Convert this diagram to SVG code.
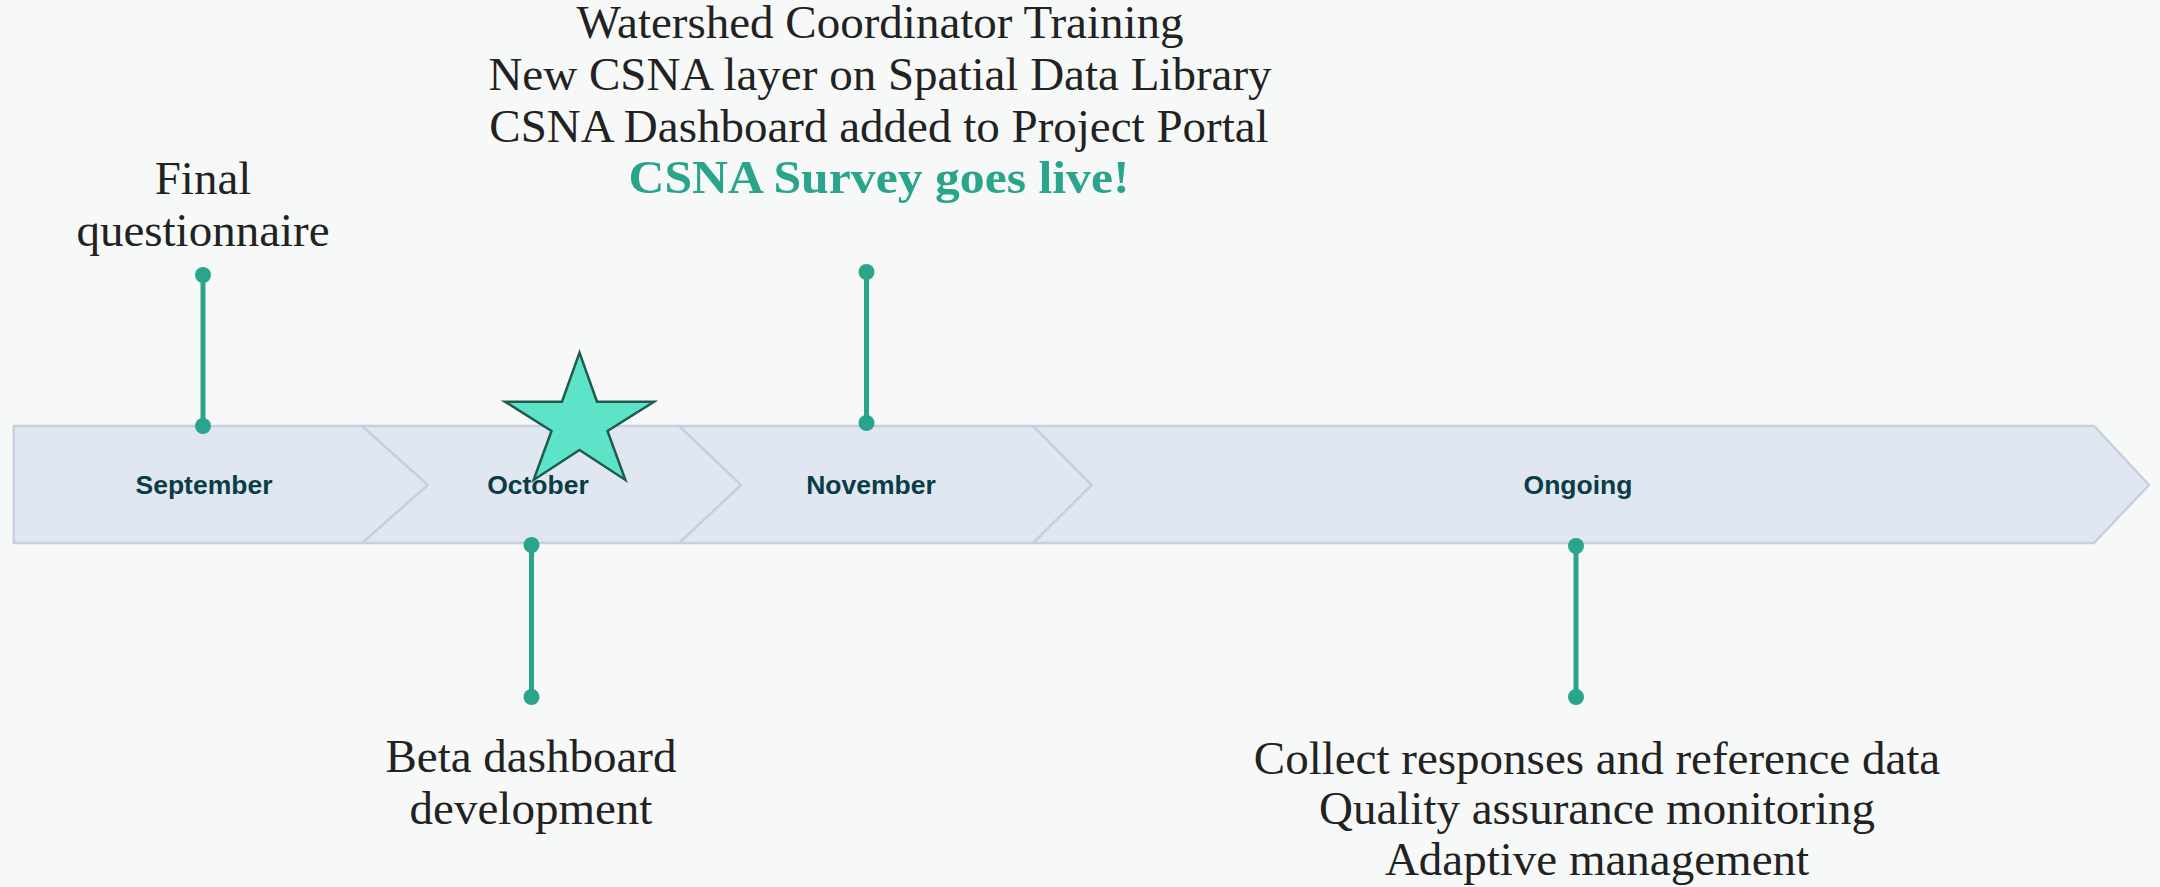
<svg xmlns="http://www.w3.org/2000/svg" width="2160" height="887" viewBox="0 0 2160 887">
  <style>
    .seg { fill: #e1e7f0; stroke: #c6d0e1; stroke-width: 2.5; stroke-linejoin: miter; }
    .month { font-family: "Liberation Sans", Arial, sans-serif; font-weight: bold; font-size: 26.5px; fill: #0b3d47; text-anchor: middle; }
    .note { font-family: "Liberation Serif", "Times New Roman", serif; font-size: 47px; fill: #222222; text-anchor: middle; }
    .hl { font-weight: bold; fill: #2aa58c; }
    .stem { stroke: #2aa58c; stroke-width: 5; fill: none; }
    .dot { fill: #2aa58c; }
    .star { fill: #5ce3c8; stroke: #1f5c4f; stroke-width: 2.5; stroke-linejoin: miter; }
  </style>
  <rect x="0" y="0" width="2160" height="887" fill="#f7f9f8"/>

  <g id="seg-ongoing">
    <path class="seg" d="M1033,426 L2094,426 L2149,485 L2094,543 L1033,543 L1091.5,485 Z"/>
    <text class="month" x="1578" y="494">Ongoing</text>
  </g>
  <g id="seg-november">
    <path class="seg" d="M679,426 L1033,426 L1091.5,485 L1033,543 L679,543 L741,485 Z"/>
    <text class="month" x="871" y="494">November</text>
  </g>
  <g id="seg-october">
    <path class="seg" d="M362,426 L679,426 L741,485 L679,543 L362,543 L427.6,485 Z"/>
  </g>
  <g id="seg-september">
    <path class="seg" d="M13.8,426 L362,426 L427.6,485 L362,543 L13.8,543 Z"/>
    <text class="month" x="204" y="494">September</text>
  </g>

  <g id="star">
    <polygon class="star" points="579.5,352.7 597,401.7 654,401.7 607.5,431 625.4,480 579.5,450 533.6,480 551.5,431 505,401.7 562,401.7"/>
  </g>
  <g id="seg-october-label">
    <text class="month" x="538" y="494">October</text>
  </g>

  <g id="connectors">
    <line class="stem" x1="203" y1="275" x2="203" y2="426"/>
    <circle class="dot" cx="203" cy="275" r="8"/>
    <circle class="dot" cx="203" cy="426" r="8"/>

    <line class="stem" x1="866.5" y1="272" x2="866.5" y2="423"/>
    <circle class="dot" cx="866.5" cy="272" r="8"/>
    <circle class="dot" cx="866.5" cy="423" r="8"/>

    <line class="stem" x1="531.5" y1="545" x2="531.5" y2="697"/>
    <circle class="dot" cx="531.5" cy="545" r="8"/>
    <circle class="dot" cx="531.5" cy="697" r="8"/>

    <line class="stem" x1="1576" y1="546" x2="1576" y2="697"/>
    <circle class="dot" cx="1576" cy="546" r="8"/>
    <circle class="dot" cx="1576" cy="697" r="8"/>
  </g>

  <g id="note-september">
    <text class="note" x="203" y="194">Final</text>
    <text class="note" x="203" y="246">questionnaire</text>
  </g>
  <g id="note-november">
    <text class="note" x="880" y="38">Watershed Coordinator Training</text>
    <text class="note" x="880" y="90">New CSNA layer on Spatial Data Library</text>
    <text class="note" x="879" y="142">CSNA Dashboard added to Project Portal</text>
    <text class="note hl" x="879" y="193" textLength="501" lengthAdjust="spacingAndGlyphs">CSNA Survey goes live!</text>
  </g>
  <g id="note-october">
    <text class="note" x="531" y="772">Beta dashboard</text>
    <text class="note" x="531" y="824">development</text>
  </g>
  <g id="note-ongoing">
    <text class="note" x="1597" y="774">Collect responses and reference data</text>
    <text class="note" x="1597" y="824">Quality assurance monitoring</text>
    <text class="note" x="1597" y="875">Adaptive management</text>
  </g>
</svg>
